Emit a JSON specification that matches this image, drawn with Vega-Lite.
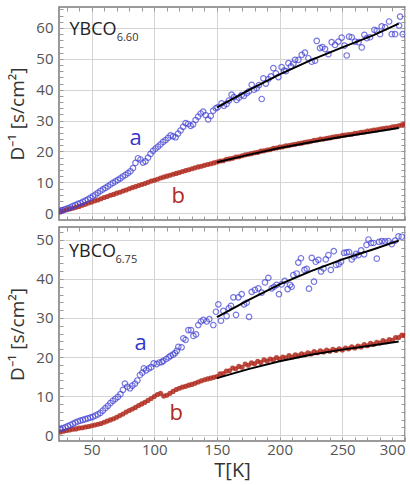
{
"$schema":"https://vega.github.io/schema/vega-lite/v6.json",
"padding":{"left":8,"top":5,"right":0,"bottom":0},
"spacing":3,
"config":{
 "view":{"stroke":"#7a7a7a","strokeWidth":1.5},
 "font":"Open Sans",
 "axis":{"labelFont":"Open Sans","titleFont":"Open Sans","labelColor":"#555","titleColor":"#333","labelFontSize":15,"titleFontSize":19,"titleFontWeight":"normal","domain":false,"gridColor":"#d4d4d4","gridWidth":1,"tickColor":"#9a9a9a","tickWidth":1,"labelOverlap":false}
},
"datasets":{
"topA":[
{"T":25,"v":0.7},{"T":27,"v":1.0},{"T":29,"v":1.3},{"T":31,"v":1.6},{"T":33,"v":1.9},{"T":35,"v":2.3},{"T":37,"v":2.6},{"T":39,"v":3.0},{"T":41,"v":3.3},{"T":43,"v":3.7},{"T":45,"v":4.1},{"T":47,"v":4.5},{"T":49,"v":5.0},{"T":51,"v":5.5},{"T":53,"v":6.0},{"T":55,"v":6.6},{"T":57,"v":7.2},{"T":59,"v":7.7},{"T":61,"v":8.2},{"T":63,"v":8.7},{"T":65,"v":9.3},{"T":67,"v":9.8},{"T":69,"v":10.3},{"T":71,"v":10.8},{"T":73,"v":11.3},{"T":75,"v":11.9},{"T":77,"v":12.4},{"T":79,"v":13.0},{"T":81,"v":13.6},{"T":83,"v":14.6},{"T":85,"v":16.3},{"T":87,"v":17.8},{"T":89,"v":17.4},{"T":91,"v":16.4},{"T":93,"v":16.8},{"T":95,"v":18.0},{"T":97,"v":19.2},{"T":99,"v":20.2},{"T":101,"v":20.9},{"T":103,"v":21.6},{"T":105,"v":22.3},{"T":107,"v":23.1},{"T":109,"v":23.7},{"T":111,"v":24.4},{"T":113,"v":25.2},{"T":115,"v":24.9},{"T":117,"v":24.6},{"T":119,"v":25.8},{"T":121,"v":26.8},{"T":123,"v":28.0},{"T":125,"v":29.2},{"T":127,"v":28.9},{"T":129,"v":28.3},{"T":131,"v":28.8},{"T":133,"v":30.2},{"T":135,"v":31.3},{"T":137,"v":32.3},{"T":139,"v":32.9},{"T":141,"v":31.8},{"T":143,"v":30.4},{"T":145,"v":31.5},{"T":147,"v":33.2},{"T":149,"v":34.0},{"T":150.5,"v":34.3},
{"T":153.7,"v":35.6},{"T":155.5,"v":34.8},{"T":157.7,"v":35.4},{"T":159.5,"v":36.5},{"T":161.7,"v":38.4},{"T":163.5,"v":37.6},{"T":165.7,"v":36.7},{"T":167.5,"v":37.4},{"T":169.7,"v":38.3},{"T":171.5,"v":38.0},{"T":173.7,"v":38.9},{"T":175.5,"v":39.5},{"T":177.7,"v":41.6},{"T":179.5,"v":40.0},{"T":181.7,"v":40.5},{"T":183.5,"v":41.5},{"T":185.7,"v":37.0},{"T":187,"v":43.7},{"T":189,"v":42.0},{"T":191,"v":43.4},{"T":193,"v":44.3},{"T":195,"v":47.0},{"T":197,"v":45.3},{"T":199,"v":44.1},{"T":201.6,"v":47.3},{"T":203.5,"v":46.2},{"T":205,"v":46.0},{"T":207,"v":48.6},{"T":209,"v":47.6},{"T":211,"v":48.5},{"T":212.3,"v":49.7},{"T":215,"v":49.7},{"T":217.6,"v":51.3},{"T":220.2,"v":52.0},{"T":222.9,"v":50.2},{"T":225.6,"v":49.1},{"T":228.2,"v":49.4},{"T":229.6,"v":55.8},{"T":232.2,"v":53.5},{"T":234.1,"v":53.8},{"T":236.2,"v":53.2},{"T":238.9,"v":51.5},{"T":241.5,"v":55.4},{"T":244.2,"v":54.5},{"T":246.9,"v":55.6},{"T":249.5,"v":56.9},{"T":251.7,"v":54.3},{"T":253.5,"v":51.1},{"T":255.4,"v":57.2},{"T":257.5,"v":57.0},{"T":260.2,"v":55.6},{"T":262.9,"v":55.4},{"T":265.5,"v":53.7},{"T":267.6,"v":57.8},{"T":269.5,"v":56.7},{"T":272.1,"v":57.0},{"T":275.6,"v":59.4},{"T":277.5,"v":59.1},{"T":280.1,"v":58.0},{"T":281.4,"v":60.5},{"T":284.1,"v":60.2},{"T":287.3,"v":62.1},{"T":289.4,"v":58.0},{"T":292.1,"v":58.0},{"T":295.3,"v":60.8},{"T":296.1,"v":63.7},{"T":298.2,"v":58.0}
],
"topB":[
{"T":25,"v":0.5},{"T":27.5,"v":0.8},{"T":30,"v":1.1},{"T":32.5,"v":1.4},{"T":35,"v":1.6},{"T":37.5,"v":1.9},{"T":40,"v":2.2},{"T":42.5,"v":2.6},{"T":45,"v":2.9},{"T":47.5,"v":3.3},{"T":50,"v":3.6},{"T":52.5,"v":4.0},{"T":55,"v":4.3},{"T":57.5,"v":4.7},{"T":60,"v":5.1},{"T":62.5,"v":5.4},{"T":65,"v":5.8},{"T":67.5,"v":6.1},{"T":70,"v":6.5},{"T":72.5,"v":6.8},{"T":75,"v":7.2},{"T":77.5,"v":7.5},{"T":80,"v":7.9},{"T":82.5,"v":8.3},{"T":85,"v":8.6},{"T":87.5,"v":9.0},{"T":90,"v":9.3},{"T":92.5,"v":9.6},{"T":95,"v":10.0},{"T":97.5,"v":10.4},{"T":100,"v":10.7},{"T":102.5,"v":11.0},{"T":105,"v":11.4},{"T":107.5,"v":11.7},{"T":110,"v":12.0},{"T":112.5,"v":12.3},{"T":115,"v":12.6},{"T":117.5,"v":12.9},{"T":120,"v":13.2},{"T":122.5,"v":13.5},{"T":125,"v":13.8},{"T":127.5,"v":14.1},{"T":130,"v":14.4},{"T":132.5,"v":14.7},{"T":135,"v":15.0},{"T":137.5,"v":15.2},{"T":140,"v":15.5},{"T":142.5,"v":15.8},{"T":145,"v":16.0},{"T":147.5,"v":16.3},{"T":150,"v":16.6},{"T":152.5,"v":16.9},{"T":155,"v":17.0},{"T":157.5,"v":17.5},{"T":160,"v":17.6},{"T":162.5,"v":17.8},{"T":165,"v":18.2},{"T":167.5,"v":18.3},{"T":170,"v":18.6},{"T":172.5,"v":18.9},{"T":175,"v":19.1},{"T":177.5,"v":19.3},{"T":180,"v":19.6},{"T":182.5,"v":19.7},{"T":185,"v":20.1},{"T":187.5,"v":20.2},{"T":190,"v":20.5},{"T":192.5,"v":20.6},{"T":195,"v":21.0},{"T":197.5,"v":21.1},{"T":200,"v":21.4},{"T":202.5,"v":21.5},{"T":205,"v":21.8},{"T":207.5,"v":21.9},{"T":210,"v":22.2},{"T":212.5,"v":22.3},{"T":215,"v":22.6},{"T":217.5,"v":22.7},{"T":220,"v":23.0},{"T":222.5,"v":23.1},{"T":225,"v":23.3},{"T":227.5,"v":23.6},{"T":230,"v":23.7},{"T":232.5,"v":24.0},{"T":235,"v":24.0},{"T":237.5,"v":24.3},{"T":240,"v":24.4},{"T":242.5,"v":24.7},{"T":245,"v":24.8},{"T":247.5,"v":24.9},{"T":250,"v":25.2},{"T":252.5,"v":25.3},{"T":255,"v":25.5},{"T":257.5,"v":25.6},{"T":260,"v":25.9},{"T":262.5,"v":26.0},{"T":265,"v":26.2},{"T":267.5,"v":26.3},{"T":270,"v":26.6},{"T":272.5,"v":26.7},{"T":275,"v":26.9},{"T":277.5,"v":27.0},{"T":280,"v":27.3},{"T":282.5,"v":27.4},{"T":285,"v":27.6},{"T":287.5,"v":27.7},{"T":290,"v":28.0},{"T":292.5,"v":28.1},{"T":295,"v":28.3},{"T":297.5,"v":28.6},{"T":299.5,"v":28.8}
],
"topFit":[
{"T":150,"v":34.3,"s":"a"},{"T":175,"v":39.8,"s":"a"},{"T":200,"v":45.0,"s":"a"},{"T":225,"v":49.6,"s":"a"},{"T":250,"v":53.7,"s":"a"},{"T":275,"v":57.7,"s":"a"},{"T":295,"v":61.4,"s":"a"},
{"T":150,"v":16.5,"s":"b"},{"T":175,"v":18.9,"s":"b"},{"T":200,"v":21.1,"s":"b"},{"T":225,"v":23.0,"s":"b"},{"T":250,"v":24.8,"s":"b"},{"T":275,"v":26.3,"s":"b"},{"T":295,"v":27.6,"s":"b"}
],
"topText":[
{"T":32.4,"v":57.6,"t":"YBCO","k":"name"},{"T":70,"v":55.7,"t":"6.60","k":"sub"},{"T":80.3,"v":22.2,"t":"a","k":"a"},{"T":113.8,"v":3.2,"t":"b","k":"b"}
],
"botA":[
{"T":25,"v":1.6},{"T":27,"v":1.8},{"T":29,"v":2.0},{"T":31,"v":2.3},{"T":33,"v":2.6},{"T":35,"v":2.9},{"T":37,"v":3.2},{"T":39,"v":3.5},{"T":41,"v":3.7},{"T":43,"v":3.9},{"T":45,"v":4.1},{"T":47,"v":4.3},{"T":49,"v":4.5},{"T":51,"v":4.7},{"T":53,"v":5.0},{"T":55,"v":5.3},{"T":57,"v":5.7},{"T":59,"v":6.3},{"T":61,"v":6.9},{"T":63,"v":7.5},{"T":65,"v":8.2},{"T":67,"v":8.8},{"T":69,"v":9.3},{"T":71,"v":9.8},{"T":73,"v":10.5},{"T":75,"v":11.6},{"T":76.6,"v":13.2},{"T":78.5,"v":12.4},{"T":80.6,"v":12.0},{"T":82.5,"v":12.7},{"T":84.6,"v":13.2},{"T":86.5,"v":14.0},{"T":88.6,"v":15.4},{"T":90.5,"v":16.0},{"T":91.7,"v":17.1},{"T":93.5,"v":16.6},{"T":95.7,"v":17.1},{"T":97.5,"v":17.4},{"T":99.5,"v":18.4},{"T":101.9,"v":18.2},{"T":104,"v":18.6},{"T":106,"v":18.7},{"T":107.2,"v":19.0},{"T":109.5,"v":19.5},{"T":111.5,"v":19.9},{"T":113,"v":20.3},{"T":115,"v":20.6},{"T":116.5,"v":21.0},{"T":118,"v":21.6},{"T":119.2,"v":22.6},{"T":121.8,"v":22.5},{"T":123.2,"v":24.8},{"T":125,"v":24.4},{"T":127.2,"v":26.9},{"T":129.3,"v":26.9},{"T":131.2,"v":25.4},{"T":133.3,"v":25.8},{"T":135.1,"v":28.2},{"T":137.2,"v":29.1},{"T":139.1,"v":29.5},{"T":141.8,"v":29.1},{"T":143.9,"v":29.7},{"T":147.1,"v":28.2},{"T":149.2,"v":31.6},{"T":151.1,"v":33.5},{"T":153.2,"v":29.3},{"T":155.1,"v":31.8},{"T":157.7,"v":30.5},{"T":159.5,"v":32.5},{"T":161.2,"v":33.1},{"T":163.1,"v":35.3},{"T":165.2,"v":30.8},{"T":167.1,"v":35.3},{"T":169.7,"v":36.1},{"T":171.6,"v":33.5},{"T":173.7,"v":33.9},{"T":175.6,"v":30.3},{"T":177.7,"v":36.7},{"T":180.3,"v":37.2},{"T":183,"v":37.6},{"T":185.7,"v":36.5},{"T":188.3,"v":39.1},{"T":191,"v":40.3},{"T":193.7,"v":37.6},{"T":195.5,"v":38.0},{"T":197.6,"v":38.5},{"T":199.5,"v":36.1},{"T":201.6,"v":38.6},{"T":204,"v":39.5},{"T":206.4,"v":37.4},{"T":208.3,"v":38.5},{"T":209.6,"v":38.0},{"T":210.9,"v":41.0},{"T":213.6,"v":41.4},{"T":214.9,"v":44.2},{"T":217,"v":45.3},{"T":219.8,"v":42.3},{"T":221.6,"v":42.6},{"T":223.4,"v":37.5},{"T":225.6,"v":45.4},{"T":227.4,"v":39.3},{"T":228.8,"v":44.4},{"T":230.9,"v":44.9},{"T":233,"v":41.9},{"T":235,"v":42.7},{"T":236.8,"v":45.0},{"T":238.9,"v":46.1},{"T":240.8,"v":42.3},{"T":243.2,"v":47.1},{"T":245,"v":43.6},{"T":247.1,"v":43.8},{"T":249,"v":44.4},{"T":251.4,"v":46.7},{"T":253.5,"v":46.8},{"T":255.4,"v":46.9},{"T":257.5,"v":45.0},{"T":259.2,"v":45.7},{"T":261,"v":46.4},{"T":262.9,"v":46.1},{"T":265,"v":47.3},{"T":267.4,"v":46.3},{"T":269.3,"v":48.7},{"T":270.9,"v":50.1},{"T":273,"v":49.2},{"T":274.9,"v":49.2},{"T":277.5,"v":45.2},{"T":279.3,"v":49.5},{"T":281.5,"v":49.7},{"T":284.1,"v":49.6},{"T":286.8,"v":49.7},{"T":289.4,"v":48.9},{"T":292.1,"v":49.8},{"T":294.8,"v":50.9},{"T":297.4,"v":50.8}
],
"botB":[
{"T":25,"v":0.8},{"T":27.5,"v":1.0},{"T":30,"v":1.2},{"T":32.5,"v":1.3},{"T":35,"v":1.5},{"T":37.5,"v":1.6},{"T":40,"v":1.8},{"T":42.5,"v":1.9},{"T":45,"v":2.1},{"T":47.5,"v":2.2},{"T":50,"v":2.4},{"T":52.5,"v":2.6},{"T":55,"v":2.8},{"T":57.5,"v":3.0},{"T":60,"v":3.3},{"T":62.5,"v":3.6},{"T":65,"v":3.9},{"T":67.5,"v":4.2},{"T":70,"v":4.6},{"T":72.5,"v":5.0},{"T":75,"v":5.4},{"T":77.5,"v":5.9},{"T":80,"v":6.3},{"T":82.5,"v":6.7},{"T":85,"v":7.1},{"T":87.5,"v":7.6},{"T":90,"v":8.0},{"T":92.5,"v":8.4},{"T":95,"v":8.9},{"T":97.5,"v":9.4},{"T":100,"v":9.9},{"T":102.5,"v":10.4},{"T":105,"v":10.7},{"T":107.5,"v":10.0},{"T":110,"v":10.2},{"T":112.5,"v":10.7},{"T":115,"v":11.2},{"T":117.5,"v":11.7},{"T":120,"v":12.0},{"T":122.5,"v":12.3},{"T":125,"v":12.5},{"T":127.5,"v":12.8},{"T":130,"v":13.0},{"T":132.5,"v":13.3},{"T":135,"v":13.6},{"T":137.5,"v":13.9},{"T":140,"v":14.2},{"T":142.5,"v":14.4},{"T":145,"v":14.6},{"T":147.5,"v":14.8},{"T":150,"v":15.0},{"T":152.5,"v":15.7},{"T":155,"v":15.8},{"T":157.5,"v":16.4},{"T":160,"v":16.5},{"T":162.5,"v":17.2},{"T":165,"v":17.0},{"T":167.5,"v":17.6},{"T":170,"v":17.4},{"T":172.5,"v":18.2},{"T":175,"v":17.9},{"T":177.5,"v":18.5},{"T":180,"v":18.3},{"T":182.5,"v":18.9},{"T":185,"v":18.6},{"T":187.5,"v":19.3},{"T":190,"v":19.0},{"T":192.5,"v":19.5},{"T":195,"v":19.3},{"T":197.5,"v":19.9},{"T":200,"v":19.5},{"T":202.5,"v":20.0},{"T":205,"v":19.8},{"T":207.5,"v":20.4},{"T":210,"v":20.0},{"T":212.5,"v":20.6},{"T":215,"v":20.3},{"T":217.5,"v":20.8},{"T":220,"v":20.6},{"T":222.5,"v":21.1},{"T":225,"v":20.8},{"T":227.5,"v":21.4},{"T":230,"v":21.1},{"T":232.5,"v":21.6},{"T":235,"v":21.3},{"T":237.5,"v":21.8},{"T":240,"v":21.5},{"T":242.5,"v":22.0},{"T":245,"v":21.7},{"T":247.5,"v":22.1},{"T":250,"v":21.8},{"T":252.5,"v":22.3},{"T":255,"v":22.1},{"T":257.5,"v":22.6},{"T":260,"v":22.3},{"T":262.5,"v":22.8},{"T":265,"v":22.6},{"T":267.5,"v":23.2},{"T":270,"v":22.9},{"T":272.5,"v":23.5},{"T":275,"v":23.2},{"T":277.5,"v":23.8},{"T":280,"v":23.6},{"T":282.5,"v":24.2},{"T":285,"v":23.9},{"T":287.5,"v":24.5},{"T":290,"v":24.3},{"T":292.5,"v":25.0},{"T":295,"v":25.0},{"T":297.5,"v":25.6},{"T":299.5,"v":25.5}
],
"botFit":[
{"T":150,"v":30.2,"s":"a"},{"T":175,"v":34.6,"s":"a"},{"T":200,"v":38.6,"s":"a"},{"T":225,"v":42.0,"s":"a"},{"T":250,"v":45.0,"s":"a"},{"T":275,"v":47.6,"s":"a"},{"T":295,"v":49.8,"s":"a"},
{"T":150,"v":14.6,"s":"b"},{"T":175,"v":16.9,"s":"b"},{"T":200,"v":18.9,"s":"b"},{"T":225,"v":20.6,"s":"b"},{"T":250,"v":21.9,"s":"b"},{"T":275,"v":23.0,"s":"b"},{"T":295,"v":24.0,"s":"b"}
],
"botText":[
{"T":32,"v":45.6,"t":"YBCO","k":"name"},{"T":69,"v":44.0,"t":"6.75","k":"sub"},{"T":84.3,"v":21.8,"t":"a","k":"a"},{"T":112.2,"v":3.8,"t":"b","k":"b"}
]
},
"vconcat":[
{
 "width":346,"height":213,
 "layer":[
  {"data":{"name":"topB"},
   "mark":{"type":"circle","color":"#b02a1e","size":26,"opacity":0.85,"clip":true},
   "encoding":{
    "x":{"field":"T","type":"quantitative","scale":{"domain":[24,300],"nice":false,"zero":false},
         "axis":{"orient":"bottom","values":[30,40,50,60,70,80,90,100,110,120,130,140,150,160,170,180,190,200,210,220,230,240,250,260,270,280,290,300],"labels":false,"grid":true,"gridOpacity":{"condition":{"test":"datum.value % 50 === 0","value":1},"value":0},"tickSize":-4,"title":null}},
    "y":{"field":"v","type":"quantitative","scale":{"domain":[-2.2,66.8],"nice":false,"zero":false},
         "axis":{"orient":"left","values":[0,2,4,6,8,10,12,14,16,18,20,22,24,26,28,30,32,34,36,38,40,42,44,46,48,50,52,54,56,58,60,62,64,66],"labelExpr":"datum.value % 10 === 0 ? datum.label : ''","labelFontSize":{"condition":{"test":"datum.value % 10 === 0","value":15},"value":0},"grid":true,"gridOpacity":{"condition":{"test":"datum.value % 10 === 0","value":1},"value":0},"tickSize":-4,"labelPadding":10,"title":"D⁻¹ [s/cm²]","titlePadding":8}}
   }},
  {"data":{"name":"topA"},
   "mark":{"type":"point","shape":"circle","filled":false,"color":"#3f3fd4","size":30,"strokeWidth":1.2,"clip":true},
   "encoding":{
    "x":{"field":"T","type":"quantitative","axis":null},
    "y":{"field":"v","type":"quantitative","axis":null}
   }},
  {"data":{"name":"topFit"},
   "mark":{"type":"line","color":"#000","strokeWidth":2},
   "encoding":{
    "x":{"field":"T","type":"quantitative","axis":{"orient":"top","values":[30,40,50,60,70,80,90,100,110,120,130,140,150,160,170,180,190,200,210,220,230,240,250,260,270,280,290],"labels":false,"grid":false,"tickSize":-4,"title":null}},
    "y":{"field":"v","type":"quantitative","axis":{"orient":"right","values":[0,2,4,6,8,10,12,14,16,18,20,22,24,26,28,30,32,34,36,38,40,42,44,46,48,50,52,54,56,58,60,62,64,66],"labels":false,"grid":false,"tickSize":-4,"title":null}},
    "detail":{"field":"s"}
   }},
  {"data":{"name":"topText"},"transform":[{"filter":"datum.k==='name'"}],
   "mark":{"type":"text","align":"left","baseline":"alphabetic","font":"Open Sans","fontSize":18,"color":"#222"},
   "encoding":{"x":{"field":"T","type":"quantitative","axis":null},"y":{"field":"v","type":"quantitative","axis":null},"text":{"field":"t"}}},
  {"data":{"name":"topText"},"transform":[{"filter":"datum.k==='sub'"}],
   "mark":{"type":"text","align":"left","baseline":"alphabetic","font":"Open Sans","fontSize":11,"color":"#333"},
   "encoding":{"x":{"field":"T","type":"quantitative","axis":null},"y":{"field":"v","type":"quantitative","axis":null},"text":{"field":"t"}}},
  {"data":{"name":"topText"},"transform":[{"filter":"datum.k==='a'"}],
   "mark":{"type":"text","align":"left","baseline":"alphabetic","font":"Open Sans","fontSize":22,"color":"#3636c8"},
   "encoding":{"x":{"field":"T","type":"quantitative","axis":null},"y":{"field":"v","type":"quantitative","axis":null},"text":{"field":"t"}}},
  {"data":{"name":"topText"},"transform":[{"filter":"datum.k==='b'"}],
   "mark":{"type":"text","align":"left","baseline":"alphabetic","font":"Open Sans","fontSize":22,"color":"#b02a1e"},
   "encoding":{"x":{"field":"T","type":"quantitative","axis":null},"y":{"field":"v","type":"quantitative","axis":null},"text":{"field":"t"}}}
 ],
 "resolve":{"axis":{"x":"independent","y":"independent"}}
},
{
 "width":346,"height":214,
 "layer":[
  {"data":{"name":"botB"},
   "mark":{"type":"circle","color":"#b02a1e","size":26,"opacity":0.85,"clip":true},
   "encoding":{
    "x":{"field":"T","type":"quantitative","scale":{"domain":[24,300],"nice":false,"zero":false},
         "axis":{"orient":"bottom","values":[30,40,50,60,70,80,90,100,110,120,130,140,150,160,170,180,190,200,210,220,230,240,250,260,270,280,290,300],"labelExpr":"datum.value % 50 === 0 ? datum.label : ''","labelFontSize":{"condition":{"test":"datum.value % 50 === 0","value":15},"value":0},"labelFlush":true,"grid":true,"gridOpacity":{"condition":{"test":"datum.value % 50 === 0","value":1},"value":0},"tickSize":-4,"labelPadding":5,"title":"T[K]","titleFontSize":20,"titlePadding":3}},
    "y":{"field":"v","type":"quantitative","scale":{"domain":[-1.5,53.3],"nice":false,"zero":false},
         "axis":{"orient":"left","values":[0,2,4,6,8,10,12,14,16,18,20,22,24,26,28,30,32,34,36,38,40,42,44,46,48,50,52],"labelExpr":"datum.value % 10 === 0 ? datum.label : ''","labelFontSize":{"condition":{"test":"datum.value % 10 === 0","value":15},"value":0},"grid":true,"gridOpacity":{"condition":{"test":"datum.value % 10 === 0","value":1},"value":0},"tickSize":-4,"labelPadding":10,"title":"D⁻¹ [s/cm²]","titlePadding":8}}
   }},
  {"data":{"name":"botA"},
   "mark":{"type":"point","shape":"circle","filled":false,"color":"#3f3fd4","size":30,"strokeWidth":1.2,"clip":true},
   "encoding":{
    "x":{"field":"T","type":"quantitative","axis":null},
    "y":{"field":"v","type":"quantitative","axis":null}
   }},
  {"data":{"name":"botFit"},
   "mark":{"type":"line","color":"#000","strokeWidth":2},
   "encoding":{
    "x":{"field":"T","type":"quantitative","axis":{"orient":"top","values":[30,40,50,60,70,80,90,100,110,120,130,140,150,160,170,180,190,200,210,220,230,240,250,260,270,280,290],"labels":false,"grid":false,"tickSize":-4,"title":null}},
    "y":{"field":"v","type":"quantitative","axis":{"orient":"right","values":[0,2,4,6,8,10,12,14,16,18,20,22,24,26,28,30,32,34,36,38,40,42,44,46,48,50,52],"labels":false,"grid":false,"tickSize":-4,"title":null}},
    "detail":{"field":"s"}
   }},
  {"data":{"name":"botText"},"transform":[{"filter":"datum.k==='name'"}],
   "mark":{"type":"text","align":"left","baseline":"alphabetic","font":"Open Sans","fontSize":18,"color":"#222"},
   "encoding":{"x":{"field":"T","type":"quantitative","axis":null},"y":{"field":"v","type":"quantitative","axis":null},"text":{"field":"t"}}},
  {"data":{"name":"botText"},"transform":[{"filter":"datum.k==='sub'"}],
   "mark":{"type":"text","align":"left","baseline":"alphabetic","font":"Open Sans","fontSize":11,"color":"#333"},
   "encoding":{"x":{"field":"T","type":"quantitative","axis":null},"y":{"field":"v","type":"quantitative","axis":null},"text":{"field":"t"}}},
  {"data":{"name":"botText"},"transform":[{"filter":"datum.k==='a'"}],
   "mark":{"type":"text","align":"left","baseline":"alphabetic","font":"Open Sans","fontSize":22,"color":"#3636c8"},
   "encoding":{"x":{"field":"T","type":"quantitative","axis":null},"y":{"field":"v","type":"quantitative","axis":null},"text":{"field":"t"}}},
  {"data":{"name":"botText"},"transform":[{"filter":"datum.k==='b'"}],
   "mark":{"type":"text","align":"left","baseline":"alphabetic","font":"Open Sans","fontSize":22,"color":"#b02a1e"},
   "encoding":{"x":{"field":"T","type":"quantitative","axis":null},"y":{"field":"v","type":"quantitative","axis":null},"text":{"field":"t"}}}
 ],
 "resolve":{"axis":{"x":"independent","y":"independent"}}
}
]
}
